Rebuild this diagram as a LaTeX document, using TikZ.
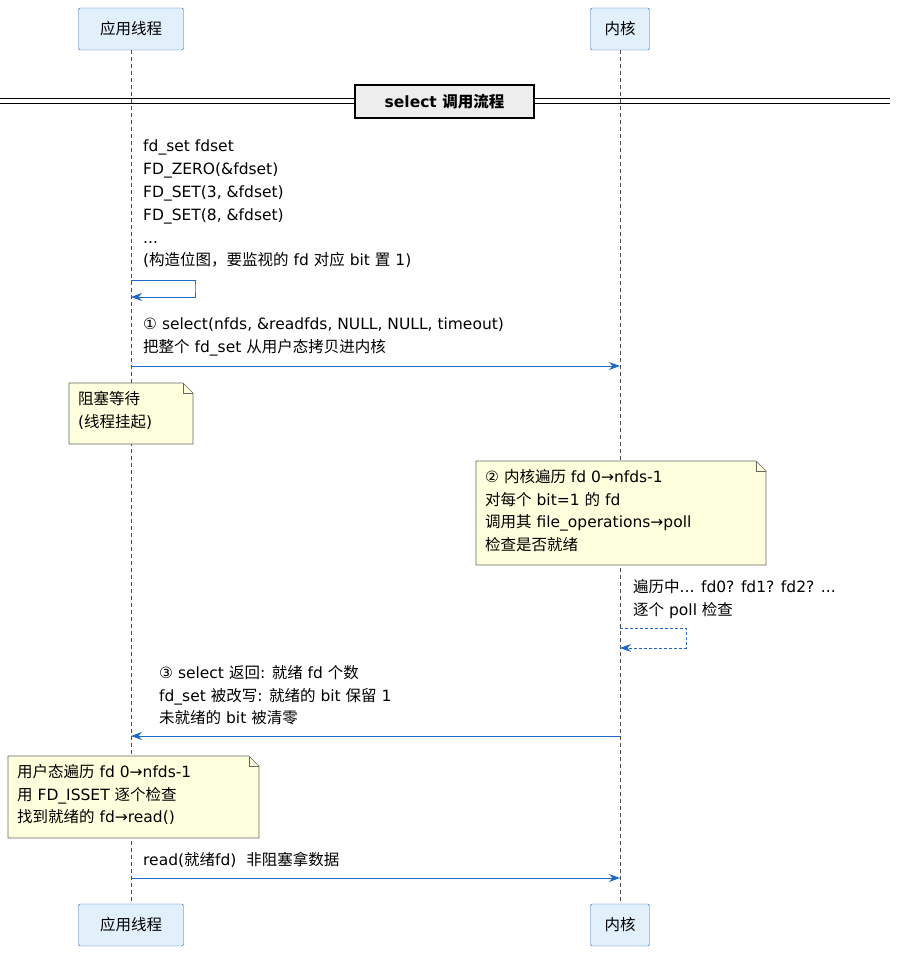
\documentclass[tikz,border=0pt]{standalone}
\usepackage{fontspec}
\setmainfont{DejaVu Sans}
\newfontfamily\cjkf{Noto Sans CJK SC}
\newfontfamily\latf{DejaVu Sans}
\XeTeXinterchartokenstate=1
\newXeTeXintercharclass\cjkclass
\newcount\cjkcc
\cjkcc="4E00 \loop \XeTeXcharclass\cjkcc=\cjkclass \advance\cjkcc 1 \ifnum\cjkcc<"A000 \repeat
\cjkcc="3000 \loop \XeTeXcharclass\cjkcc=\cjkclass \advance\cjkcc 1 \ifnum\cjkcc<"3040 \repeat
\cjkcc="FF00 \loop \XeTeXcharclass\cjkcc=\cjkclass \advance\cjkcc 1 \ifnum\cjkcc<"FFF0 \repeat
\XeTeXinterchartoks 0 \cjkclass = {\cjkf}
\XeTeXinterchartoks 4095 \cjkclass = {\cjkf}
\XeTeXinterchartoks \cjkclass 0 = {\latf}
\XeTeXinterchartoks \cjkclass 4095 = {\latf}
\usetikzlibrary{arrows.meta}
\definecolor{msg}{HTML}{1E69C8}
\definecolor{pfill}{HTML}{E2F0FB}
\definecolor{pline}{HTML}{1E69C8}
\definecolor{nfill}{HTML}{FEFFDD}
\begin{document}
\begin{tikzpicture}[x=1pt,y=-1pt,
  part/.style={draw=pline,fill=pfill,rounded corners=1.5pt,minimum height=42pt,inner xsep=6pt,font=\fontsize{15.5}{18}\selectfont},
  txt/.style={anchor=north west,align=left,inner sep=0pt,font=\fontsize{15.5}{22.8}\selectfont},
  arr/.style={draw=msg,line width=0.9pt,-{Stealth[length=11pt,width=8pt]}},
  life/.style={draw=black!70,line width=0.5pt,dash pattern=on 4pt off 3pt}]
\useasboundingbox (0,0) rectangle (898,956);
% lifelines
\coordinate (a1) at (131,50); \coordinate (a2) at (131,904);
\coordinate (k1) at (620,50); \coordinate (k2) at (620,904);
\draw[life] (a1)--(a2); \draw[life] (k1)--(k2);
% participants
\node[part,minimum width=105pt] (pa) at (131,29) {应用线程};
\node[part,minimum width=59pt] (pk) at (620,29) {内核};
\node[part,minimum width=105pt] (pa2) at (131,925) {应用线程};
\node[part,minimum width=59pt] (pk2) at (620,925) {内核};
% divider
\draw[line width=0.9pt] (0,98.5)--(890,98.5) (0,103.5)--(890,103.5);
\node[draw,line width=1.6pt,fill=black!7,minimum width=179pt,minimum height=33pt,font=\bfseries\fontsize{15.5}{18}\selectfont] (div) at (444.5,101.5) {select 调用流程};
% self message 1
\node[txt] (t0) at (143,140) {fd\_set fdset\\FD\_ZERO(\&fdset)\\FD\_SET(3, \&fdset)\\FD\_SET(8, \&fdset)\\...\\(构造位图，要监视的 fd 对应 bit 置 1)};
\coordinate (s1) at (131,280); \coordinate (s2) at (131,297);
\draw[arr] (s1) -| (195,288) |- (s2);
% message 1
\node[txt] (t1) at (143,318) {① select(nfds, \&readfds, NULL, NULL, timeout)\\把整个 fd\_set 从用户态拷贝进内核};
\coordinate (m1a) at (131,366); \coordinate (m1b) at (620,366);
\draw[arr] (m1a)--(m1b);
% notes
\newcommand\mynote[5]{%
 \draw[draw=black!60,fill=nfill,line width=0.6pt] (#1,#2)--(#3-10,#2)--(#3,#2+10)--(#3,#4)--(#1,#4)--cycle;
 \draw[draw=black!60,line width=0.6pt] (#3-10,#2)--(#3-10,#2+10)--(#3,#2+10);
 \node[txt] at (#1+9,#2+8) {#5};}
\mynote{69}{383}{193}{444}{阻塞等待\\(线程挂起)}
\mynote{476}{461}{766}{565}{② 内核遍历 fd 0→nfds-1\\对每个 bit=1 的 fd\\调用其 file\_operations→poll\\检查是否就绪}
% self dashed
\node[txt] (t2) at (633,579) {遍历中... fd0? fd1? fd2? ...\\逐个 poll 检查};
\coordinate (s3) at (620,628); \coordinate (s4) at (620,648);
\draw[arr,dash pattern=on 3pt off 2pt] (s3) -| (686,638) |- (s4);
% message 3
\node[txt] (t3) at (159,665) {③ select 返回: 就绪 fd 个数\\fd\_set 被改写: 就绪的 bit 保留 1\\未就绪的 bit 被清零};
\coordinate (m3a) at (620,736); \coordinate (m3b) at (131,736);
\draw[arr] (m3a)--(m3b);
\mynote{8}{756}{259}{838}{用户态遍历 fd 0→nfds-1\\用 FD\_ISSET 逐个检查\\找到就绪的 fd→read()}
% read
\node[txt] (t4) at (143,852) {read(就绪fd)\ \ 非阻塞拿数据};
\coordinate (m4a) at (131,878); \coordinate (m4b) at (620,878);
\draw[arr] (m4a)--(m4b);
\end{tikzpicture}
\end{document}
